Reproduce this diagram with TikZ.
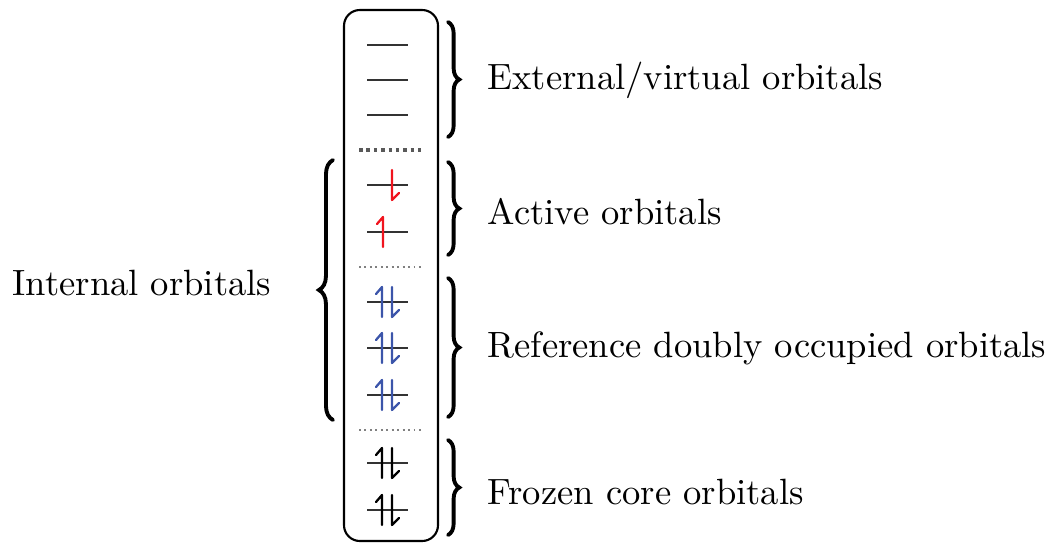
\documentclass[tikz,border=0pt]{standalone}
\usepackage{tikz}
\usetikzlibrary{decorations.pathreplacing,positioning}
\definecolor{spinred}{HTML}{F0141E}
\definecolor{spinblue}{HTML}{3C55AA}
\definecolor{levelgray}{HTML}{333333}
\tikzset{
  shell/.style={draw=black, line width=0.6pt, rounded corners=4.5pt},
  level/.style={draw=levelgray, line width=0.5pt},
  spin/.style={draw=#1, line width=0.65pt, line cap=round, line join=round},
  sepbold/.style={draw=gray!70!black, line width=1.2pt, dash pattern=on 1pt off 1.1pt},
  septhin/.style={draw=gray, line width=0.5pt, dash pattern=on 0.55pt off 1pt},
  bracket/.style={decorate, decoration={brace, amplitude=#1}, line width=1.1pt, line cap=round},
  bracket/.default=3.2pt,
  lbl/.style={anchor=west, inner sep=0pt, font=\fontsize{10.4pt}{12pt}\selectfont},
}
\begin{document}
\begin{tikzpicture}[x=0.01cm, y=-0.01cm]
  \useasboundingbox (0,0) rectangle (1049,542);
  % column of orbitals
  \draw[shell] (344,10) rectangle (438,541);
  % virtual
  \foreach \y in {45,80,115} \draw[level] (367,\y) -- (408,\y);
  \draw[sepbold] (359,150) -- (421,150);
  % active
  \foreach \y in {185,232} \draw[level] (367,\y) -- (408,\y);
  \draw[spin=spinred] (392,170) -- (392,200) -- (399,193);
  \draw[spin=spinred] (377,224) -- (383,217) -- (383,247);
  \draw[septhin] (359,267) -- (423,267);
  % reference doubly occupied
  \foreach \y in {302,348,395} {
    \draw[level] (367,\y) -- (408,\y);
    \draw[spin=spinblue] (376,\y-8) -- (382,\y-15) -- (382,\y+15);
    \draw[spin=spinblue] (392,\y-15) -- (392,\y+15) -- (399,\y+8);
  }
  \draw[septhin] (359,430) -- (423,430);
  % frozen core
  \foreach \y in {463,510} {
    \draw[level] (367,\y) -- (408,\y);
    \draw[spin=black] (376,\y-8) -- (382,\y-15) -- (382,\y+15);
    \draw[spin=black] (392,\y-15) -- (392,\y+15) -- (399,\y+8);
  }
  % braces
  \coordinate (vtop) at (448,22);   \coordinate (vbot) at (448,137);
  \coordinate (atop) at (448,162);  \coordinate (abot) at (448,255);
  \coordinate (rtop) at (448,278);  \coordinate (rbot) at (448,417);
  \coordinate (ftop) at (448,440);  \coordinate (fbot) at (448,535);
  \coordinate (itop) at (333,160);  \coordinate (ibot) at (333,420);
  \draw[bracket] (vtop) -- (vbot);
  \draw[bracket] (atop) -- (abot);
  \draw[bracket] (rtop) -- (rbot);
  \draw[bracket] (ftop) -- (fbot);
  \draw[bracket=4pt] (ibot) -- (itop);
  % labels
  \node[lbl] (virt) at (487,80) {External/virtual orbitals};
  \node[lbl] (act) at (487,212) {Active orbitals};
  \node[lbl] (ref) at (487,348) {Reference doubly occupied orbitals};
  \node[lbl] (froz) at (487,492) {Frozen core orbitals};
  \node[lbl] (intl) at (12,283) {Internal orbitals};
\end{tikzpicture}
\end{document}
